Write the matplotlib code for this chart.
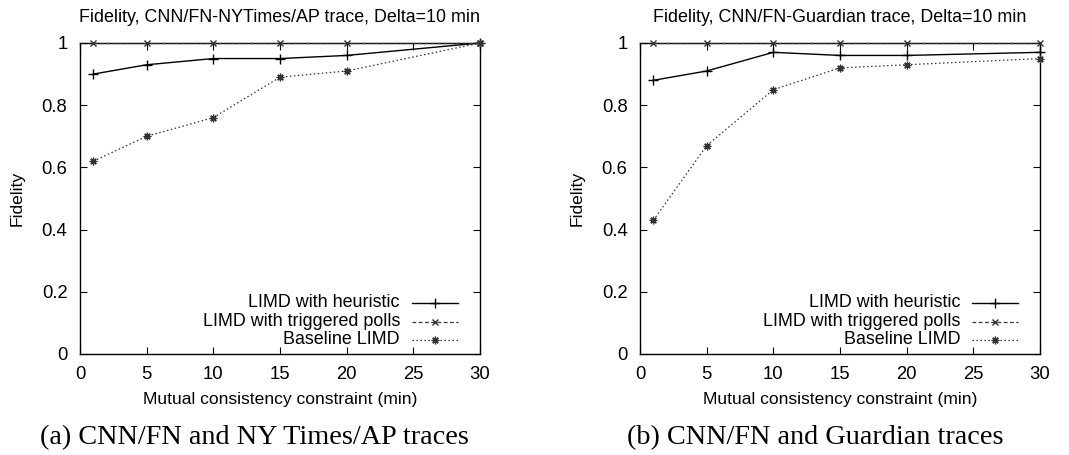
import matplotlib
matplotlib.use("Agg")
import matplotlib.pyplot as plt
from matplotlib.lines import Line2D

x = [1, 5, 10, 15, 20, 30]

# Panel (a): CNN/FN - NYTimes/AP
a_heuristic = [0.90, 0.93, 0.95, 0.95, 0.96, 1.00]
a_triggered = [1.00, 1.00, 1.00, 1.00, 1.00, 1.00]
a_baseline = [0.62, 0.70, 0.76, 0.89, 0.91, 1.00]

# Panel (b): CNN/FN - Guardian
b_heuristic = [0.88, 0.91, 0.97, 0.96, 0.96, 0.97]
b_triggered = [1.00, 1.00, 1.00, 1.00, 1.00, 1.00]
b_baseline = [0.43, 0.67, 0.85, 0.92, 0.93, 0.95]

series_labels = ["LIMD with heuristic", "LIMD with triggered polls", "Baseline LIMD"]
titles = ["Fidelity, CNN/FN-NYTimes/AP trace, Delta=10 min",
          "Fidelity, CNN/FN-Guardian trace, Delta=10 min"]
captions = ["(a) CNN/FN and NY Times/AP traces", "(b) CNN/FN and Guardian traces"]
xticks = [0, 5, 10, 15, 20, 25, 30]
yticks = [0, 0.2, 0.4, 0.6, 0.8, 1]
yticklabels = ["0", "0.2", "0.4", "0.6", "0.8", "1"]

plt.rcParams['font.family'] = ['Liberation Sans', 'DejaVu Sans']

styles = [
    dict(color='black', linestyle='-', marker='+', markersize=7, linewidth=1.0, markeredgewidth=1.0),
    dict(color='#333333', linestyle=(0, (3, 2)), marker='x', markersize=5, linewidth=0.9, markeredgewidth=1.0),
    dict(color='#333333', linestyle=(0, (1.2, 2)), marker=(8, 2, 0), markersize=5.5, linewidth=0.9, markeredgewidth=0.9),
]

fig = plt.figure(figsize=(10.69, 4.55), dpi=100)
axes_pos = [[0.0748, 0.222, 0.3742, 0.6835], [0.5987, 0.222, 0.3742, 0.6835]]
data = [[a_heuristic, a_triggered, a_baseline], [b_heuristic, b_triggered, b_baseline]]
caption_x = [0.2376, 0.7624]

for i in range(2):
    ax = fig.add_axes(axes_pos[i])
    for vals, st in zip(data[i], styles):
        ax.plot(x, vals, clip_on=False, zorder=3, **st)
    ax.set_xlim(0, 30)
    ax.set_ylim(0, 1)
    ax.set_xticks(xticks)
    ax.set_yticks(yticks)
    ax.set_yticklabels(yticklabels)
    ax.tick_params(direction='in', length=5, width=0.8, top=True, right=True,
                   labelsize=13.3)
    ax.tick_params(axis='x', pad=9)
    ax.tick_params(axis='y', pad=9)
    for s in ax.spines.values():
        s.set_linewidth(1.0)
    ax.set_title(titles[i], fontsize=12.9, pad=15)
    ax.set_xlabel("Mutual consistency constraint (min)", fontsize=12.6, labelpad=6)
    ax.set_ylabel("Fidelity", fontsize=12.6, labelpad=12)
    # legend (gnuplot style: right-aligned text, sample on the right)
    ys = [0.164, 0.103, 0.045]
    for lab, st, yy in zip(series_labels, styles, ys):
        ax.text(0.80, yy, lab, transform=ax.transAxes, ha='right', va='center', fontsize=12.9)
        ln = Line2D([0.83, 0.945], [yy, yy], transform=ax.transAxes,
                    **{k: v for k, v in st.items() if k != 'marker'})
        ax.add_line(ln)
        mk = Line2D([0.8875], [yy], transform=ax.transAxes, linestyle='none',
                    marker=st['marker'], markersize=st['markersize'],
                    markeredgewidth=st['markeredgewidth'], color=st['color'])
        ax.add_line(mk)
    fig.text(caption_x[i], 0.038, captions[i], ha='center', va='center',
             fontsize=20.3, family=['Liberation Serif', 'DejaVu Serif'])

fig.savefig("out.png", dpi=100)
